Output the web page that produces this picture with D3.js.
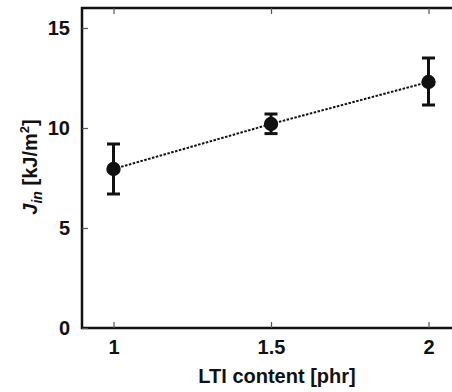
<!DOCTYPE html>
<html>
<head>
<meta charset="utf-8">
<script src="https://cdn.jsdelivr.net/npm/d3@7"></script>
<style>
  body { margin: 0; background: #fff; }
  svg { display: block; font-family: "Liberation Sans", Arial, sans-serif; font-weight: bold; }
</style>
</head>
<body>
<svg id="chart" width="452" height="392"></svg>
<script>
const content = [1, 1.5, 2];
const jin = [7.95, 10.2, 12.3];
const errUp = [9.2, 10.7, 13.5];
const errDown = [6.7, 9.72, 11.15];
const xTicks = [1, 1.5, 2];
const yTicks = [0, 5, 10, 15];

const points = content.map((c, i) => ({ c: c, v: jin[i], hi: errUp[i], lo: errDown[i] }));

const svg = d3.select('#chart');
const ink = '#111';

const x = d3.scaleLinear().domain([0.9, 2.1]).range([82, 460]);
const y = d3.scaleLinear().domain([0, 16]).range([328, 8]);

// frame: left, bottom, top
svg.append('path')
  .attr('d', `M${x(2.1)},${y(16)}H${x(0.9)}V${y(0)}H${x(2.1)}`)
  .attr('fill', 'none')
  .attr('stroke', ink)
  .attr('stroke-width', 2.5);

// bottom ticks + labels
const xAxis = svg.append('g').attr('transform', `translate(0,${y(0)})`)
  .call(d3.axisBottom(x).tickValues(xTicks).tickSizeInner(-6).tickSizeOuter(0).tickPadding(12).tickFormat(d3.format('')));
xAxis.select('.domain').remove();
xAxis.selectAll('line').attr('stroke', '#555').attr('stroke-width', 1.2);
xAxis.selectAll('text').attr('fill', ink).attr('font-size', 20).attr('font-weight', 'bold');

// top ticks
const xTop = svg.append('g').attr('transform', `translate(0,${y(16)})`)
  .call(d3.axisTop(x).tickValues(xTicks).tickSizeInner(-6).tickSizeOuter(0).tickFormat(''));
xTop.select('.domain').remove();
xTop.selectAll('line').attr('stroke', '#555').attr('stroke-width', 1.2);

// left ticks + labels
const yAxis = svg.append('g').attr('transform', `translate(${x(0.9)},0)`)
  .call(d3.axisLeft(y).tickValues(yTicks).tickSizeInner(-6).tickSizeOuter(0).tickPadding(12));
yAxis.select('.domain').remove();
yAxis.selectAll('line').attr('stroke', '#555').attr('stroke-width', 1.2);
yAxis.selectAll('text').attr('fill', ink).attr('font-size', 20).attr('font-weight', 'bold');

// dotted connecting line
svg.append('path')
  .datum(points)
  .attr('d', d3.line().x(d => x(d.c)).y(d => y(d.v)))
  .attr('fill', 'none')
  .attr('stroke', ink)
  .attr('stroke-width', 2)
  .attr('stroke-dasharray', '2.5,1.5');

// error bars
const eb = svg.append('g').selectAll('g').data(points).join('g');
eb.append('line')
  .attr('x1', d => x(d.c)).attr('x2', d => x(d.c))
  .attr('y1', d => y(d.hi)).attr('y2', d => y(d.lo))
  .attr('stroke', ink).attr('stroke-width', 3);
eb.append('line')
  .attr('x1', d => x(d.c) - 6.5).attr('x2', d => x(d.c) + 6.5)
  .attr('y1', d => y(d.hi)).attr('y2', d => y(d.hi))
  .attr('stroke', ink).attr('stroke-width', 3);
eb.append('line')
  .attr('x1', d => x(d.c) - 6.5).attr('x2', d => x(d.c) + 6.5)
  .attr('y1', d => y(d.lo)).attr('y2', d => y(d.lo))
  .attr('stroke', ink).attr('stroke-width', 3);

// markers
svg.append('g').selectAll('circle').data(points).join('circle')
  .attr('cx', d => x(d.c)).attr('cy', d => y(d.v))
  .attr('r', 7.2)
  .attr('fill', ink);

// axis titles
svg.append('text')
  .attr('x', 277).attr('y', 383)
  .attr('text-anchor', 'middle')
  .attr('font-size', 20)
  .attr('fill', ink)
  .text('LTI content [phr]');

const yl = svg.append('text')
  .attr('transform', 'translate(37,167) rotate(-90)')
  .attr('text-anchor', 'middle')
  .attr('font-size', 20)
  .attr('fill', ink);
yl.append('tspan').attr('font-style', 'italic').text('J');
yl.append('tspan').attr('font-style', 'italic').attr('font-size', 14).attr('dy', 5).text('in');
yl.append('tspan').attr('dy', -5).text(' [kJ/m');
yl.append('tspan').attr('font-size', 13).attr('dy', -8).text('2');
yl.append('tspan').attr('dy', 8).text(']');
</script>
</body>
</html>
